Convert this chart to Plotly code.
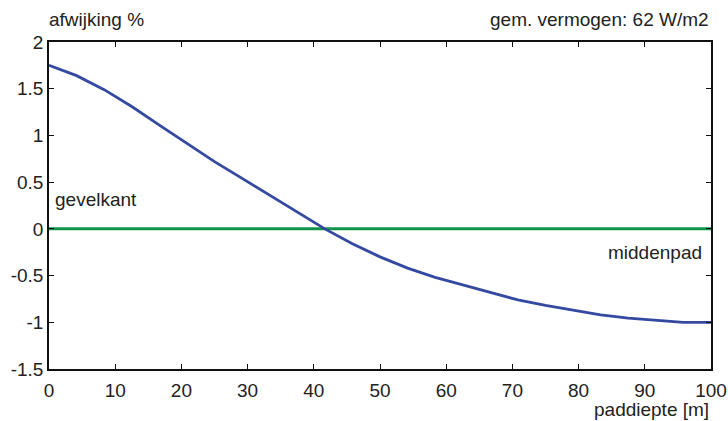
import plotly.graph_objects as go

depth = [0, 4.17, 8.33, 12.5, 16.67, 20.83, 25, 29.17, 33.33, 37.5, 41.67, 45.83, 50,
         54.17, 58.33, 62.5, 66.67, 70.83, 75, 79.17, 83.33, 87.5, 91.67, 95.83, 100]
deviation = [1.75, 1.64, 1.49, 1.31, 1.11, 0.92, 0.72, 0.54, 0.36, 0.18, 0.0, -0.16, -0.30,
             -0.42, -0.52, -0.60, -0.68, -0.76, -0.82, -0.87, -0.92, -0.955, -0.98, -1.0, -1.0]
ref_x = [0, 100]
ref_y = [0, 0]

x_ticks = [0, 10, 20, 30, 40, 50, 60, 70, 80, 90, 100]
y_ticks = [-1.5, -1, -0.5, 0, 0.5, 1, 1.5, 2]
y_text = ["-1.5", "-1", "-0.5", "0", "0.5", "1", "1.5", "2"]

FONT = "Liberation Sans, Arial, sans-serif"
TXT = "#222222"
FS = 19

fig = go.Figure()
fig.add_trace(go.Scatter(x=ref_x, y=ref_y, mode="lines",
                         line=dict(color="#12934a", width=3), showlegend=False))
fig.add_trace(go.Scatter(x=depth, y=deviation, mode="lines",
                         line=dict(color="#3449a0", width=2.8), showlegend=False))

axis_common = dict(showline=True, linecolor="#111111", linewidth=1.5, mirror="ticks",
                   ticks="inside", ticklen=5, tickwidth=1.2, tickcolor="#111111",
                   showgrid=False, zeroline=False, automargin=False,
                   tickfont=dict(family=FONT, size=FS, color=TXT))

fig.update_xaxes(range=[0, 100], tickvals=x_ticks, ticktext=[str(v) for v in x_ticks],
                 ticklabelstandoff=3, **axis_common)
fig.update_yaxes(range=[-1.5, 2], tickvals=y_ticks, ticktext=y_text,
                 ticklabelstandoff=0, **axis_common)

ann_font = dict(family=FONT, size=FS, color=TXT)
fig.add_annotation(text="afwijking %", x=-0.003, y=1.03, xref="paper", yref="paper",
                   xanchor="left", yanchor="bottom", font=ann_font, showarrow=False)
fig.add_annotation(text="gem. vermogen: 62 W/m2", x=1, y=1.03, xref="paper", yref="paper",
                   xanchor="right", yanchor="bottom", font=ann_font, showarrow=False)
fig.add_annotation(text="gevelkant", x=0.006, y=0.0, xref="paper", yref="y",
                   xanchor="left", yanchor="bottom", yshift=17,
                   font=ann_font, showarrow=False)
fig.add_annotation(text="middenpad", x=0.99, y=0.0, xref="paper", yref="y",
                   xanchor="right", yanchor="top", yshift=-11,
                   font=ann_font, showarrow=False)
fig.add_annotation(text="paddiepte [m]", x=1, y=-0.085, xref="paper", yref="paper",
                   xanchor="right", yanchor="top", font=ann_font, showarrow=False)

fig.update_layout(width=728, height=421, margin=dict(l=49, r=17, t=42, b=52),
                  plot_bgcolor="white", paper_bgcolor="white")
fig.write_html("out.html")
